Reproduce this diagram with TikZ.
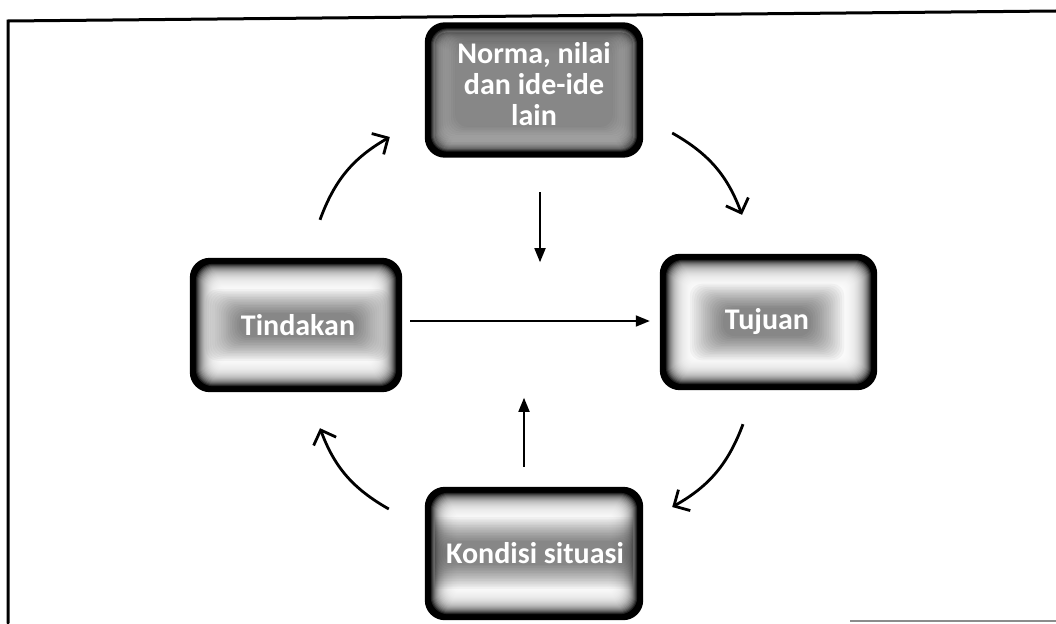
\documentclass[tikz,border=0pt]{standalone}
\usepackage{fontspec}
\newfontfamily\labfont{Carlito}
\usetikzlibrary{arrows.meta}
\pgfdeclarelayer{boxlayer}
\pgfdeclarelayer{glowlayer}
\pgfsetlayers{boxlayer,glowlayer,main}
\tikzset{
  boxnode/.style={rectangle, inner sep=0pt, draw=none},
  labnode/.style={inner sep=0pt, align=center, text=white, font=\labfont\bfseries\fontsize{30}{31}\selectfont},
  cyclearrow/.style={line width=2.8pt, -{Straight Barb[length=12pt,width=24pt]}, bend left=20},
  straightarrow/.style={line width=1.8pt, -{Triangle[length=14pt,width=11pt]}},
  framestyle/.style={line width=3pt, line cap=round}
}
\begin{document}
\begin{tikzpicture}[x=1pt,y=-1pt]
\useasboundingbox (0,0) rectangle (1056,623);
% frame
\draw[framestyle] (8,623) -- (8,21) -- (1056,11);
\draw[line width=2pt, black!45] (850,621) -- (1056,621);
% boxes
\node[boxnode, minimum width=218pt, minimum height=135pt] (norma) at (534,90) {};
\node[boxnode, minimum width=212pt, minimum height=134pt] (tind) at (296,325) {};
\node[boxnode, minimum width=217pt, minimum height=136pt] (tuj) at (768.5,322) {};
\node[boxnode, minimum width=218pt, minimum height=133pt] (kond) at (534,553.5) {};
% labels
\node[labnode] (tnorma) at (534,84) {Norma, nilai\\dan ide-ide\\lain};
\node[labnode] (ttind) at (298,325) {Tindakan};
\node[labnode] (ttuj) at (767,322) {Tujuan};
\node[labnode] (tkond) at (535,553) {Kondisi situasi};
\begin{pgfonlayer}{boxlayer}
\foreach \b in {norma,tind,tuj,kond}{
  \foreach \i in {0,...,34}{
    \pgfmathsetmacro\c{\i<5 ? 100 : 100*exp(-(\i-5)/7)}
    \pgfmathsetmacro\r{max(3,20-0.5*\i)}
    \fill[black!\c, rounded corners=\r pt] ([shift={(\i,\i)}]\b.north west) rectangle ([shift={(-\i,-\i)}]\b.south east);
  }
}
\end{pgfonlayer}
\begin{pgfonlayer}{glowlayer}
\foreach \b/\t in {norma/tnorma,tind/ttind,tuj/ttuj,kond/tkond}{
  \begin{scope}
  \clip[rounded corners=12pt] ([shift={(10,10)}]\b.north west) rectangle ([shift={(-10,-10)}]\b.south east);
  \foreach \k in {0,...,15}{
    \fill[black, opacity=0.035, rounded corners=12pt] ([shift={(-2-2.2*\k,-1-1.6*\k)}]\t.north west) rectangle ([shift={(2+2.2*\k,1+1.6*\k)}]\t.south east);
  }
  \end{scope}
}
\end{pgfonlayer}
% cycle arrows
\draw[cyclearrow] ([shift={(24,-38)}]tind.north) to ([shift={(-35,47)}]norma.west);
\draw[cyclearrow] ([shift={(29,43)}]norma.east) to ([shift={(-26.5,-39)}]tuj.north);
\draw[cyclearrow] ([shift={(-25.5,34)}]tuj.south) to ([shift={(29,-46.5)}]kond.east);
\draw[cyclearrow] ([shift={(-36,-44.5)}]kond.west) to ([shift={(24,36)}]tind.south);
% straight arrows
\draw[straightarrow] ([shift={(6,34.5)}]norma.south) -- ++(0,70);
\draw[straightarrow] ([shift={(-10,-20)}]kond.north) -- ++(0,-69);
\draw[straightarrow] ([shift={(8,-4)}]tind.east) -- ([shift={(-10,-1)}]tuj.west);
\end{tikzpicture}
\end{document}
